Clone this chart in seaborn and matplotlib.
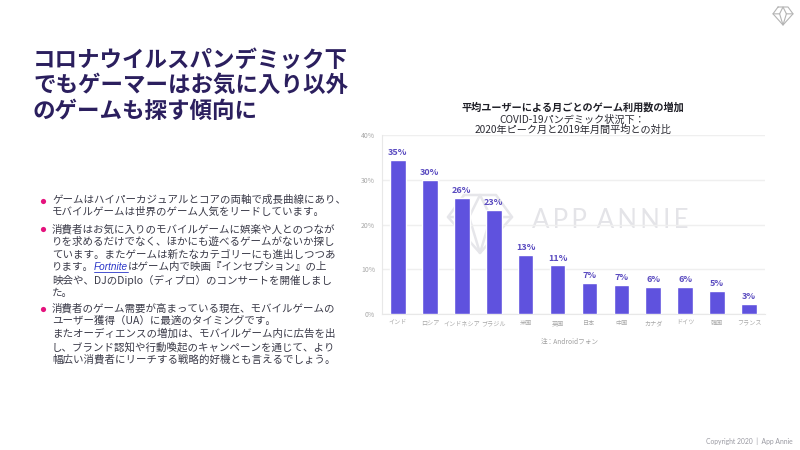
import matplotlib
matplotlib.use("Agg")
import matplotlib.pyplot as plt
import pandas as pd
import seaborn as sns

# Values
COUNTRIES = ["インド", "ロシア", "インドネシア", "ブラジル", "米国", "英国",
             "日本", "中国", "カナダ", "ドイツ", "韓国", "フランス"]
GROWTH = [34.5, 29.9, 26.0, 23.3, 13.2, 10.9, 7.0, 6.5, 6.2, 6.2, 5.3, 2.4]
VALUE_LABELS = ["35%", "30%", "26%", "23%", "13%", "11%", "7%", "7%", "6%", "6%", "5%", "3%"]
Y_TICKS = [0, 10, 20, 30, 40]
Y_TICK_LABELS = ["0%", "10%", "20%", "30%", "40%"]

HEADLINE = ["コロナウイルスパンデミック下", "でもゲーマーはお気に入り以外", "のゲームも探す傾向に"]
CHART_TITLE = "平均ユーザーによる月ごとのゲーム利用数の増加"
CHART_SUBTITLE = ["COVID-19パンデミック状況下：", "2020年ピーク月と2019年月間平均との対比"]
BODY_LINES = [
    (200, "ゲームはハイパーカジュアルとコアの両軸で成長曲線にあり、"),
    (212, "モバイルゲームは世界のゲーム人気をリードしています。"),
    (229, "消費者はお気に入りのモバイルゲームに娯楽や人とのつなが"),
    (242, "りを求めるだけでなく、ほかにも遊べるゲームがないか探し"),
    (255, "ています。またゲームは新たなカテゴリーにも進出しつつあ"),
    (280, "映会や、DJのDiplo（ディプロ）のコンサートを開催しまし"),
    (293, "た。"),
    (308, "消費者のゲーム需要が高まっている現在、モバイルゲームの"),
    (321, "ユーザー獲得（UA）に最適のタイミングです。"),
    (334, "またオーディエンスの増加は、モバイルゲーム内に広告を出"),
    (347, "し、ブランド認知や行動喚起のキャンペーンを通じて、より"),
    (359, "幅広い消費者にリーチする戦略的好機とも言えるでしょう。"),
]
BULLET_ROWS = [201, 229, 309]

BAR_COLOR = "#5F52DE"
LABEL_COLOR = "#5A4BC0"
BODY_COLOR = "#3A3A48"
TITLE_COLOR = "#2B1F5E"
BODY_SIZE = 7.55


def draw_diamond(ax, cx, cy, w, h, color, lw):
    # gem outline, used for the logo and the watermark
    l, r = cx - w / 2, cx + w / 2
    top, mid, bot = cy - h / 2, cy - h * 0.12, cy + h / 2
    ax.plot([l + w * 0.25, r - w * 0.25, r, cx, l, l + w * 0.25],
            [top, top, mid, bot, mid, top], color=color, lw=lw)
    ax.plot([l, l + w * 0.33, cx, r - w * 0.33, r], [mid, mid, top, mid, mid], color=color, lw=lw)
    ax.plot([l + w * 0.33, cx, r - w * 0.33], [mid, bot, mid], color=color, lw=lw)


sns.set_style("white")
plt.rcParams["font.family"] = ["Noto Sans CJK JP", "DejaVu Sans"]

df = pd.DataFrame({"country": COUNTRIES, "growth": GROWTH})

fig = plt.figure(figsize=(8, 4.5), dpi=100)

# overlay in pixel coordinates for the slide furniture
page = fig.add_axes([0, 0, 1, 1], zorder=0)
page.set_xlim(0, 800)
page.set_ylim(450, 0)
page.axis("off")

# plot area runs 382-765 px across, 135-314 px down
ax = fig.add_axes([382 / 800, 1 - 314.3 / 450, 383 / 800, 179.3 / 450], zorder=1)
ax.patch.set_alpha(0)
sns.barplot(data=df, x="country", y="growth", color=BAR_COLOR, saturation=1, width=0.49, ax=ax, zorder=3)
ax.bar_label(ax.containers[0], labels=VALUE_LABELS, padding=2, fontsize=6.5,
             fontweight="bold", color=LABEL_COLOR)

ax.set_ylim(0, 40)
ax.set_yticks(Y_TICKS, Y_TICK_LABELS)
ax.set_xlabel("")
ax.set_ylabel("")
ax.grid(axis="y", color="#EFEFEF", lw=1, zorder=0)
ax.tick_params(axis="x", length=0, pad=3.5, labelsize=4.4, labelcolor="#A8A8A8")
ax.tick_params(axis="y", length=0, pad=5, labelsize=5, labelcolor="#A8A8A8")
for side in ["top", "right"]:
    ax.spines[side].set_visible(False)
for side in ["left", "bottom"]:
    ax.spines[side].set_color("#E8E8E8")

# watermark
draw_diamond(page, 480, 224, 64, 58, "#E6E6EA", 1.8)
page.text(610, 220, "A\u2009P\u2009P \u2009A\u2009N\u2009N\u2009I\u2009E", fontsize=18.5, color="#E4E4E8",
          ha="center", va="center", family=["Lato", "DejaVu Sans"])

# logo, top right
draw_diamond(page, 783, 16, 20, 18, "#B4B4B4", 0.8)

# headline
for y, line in zip([60, 85, 111], HEADLINE):
    page.text(33, y, line, fontsize=16.2, fontweight="bold", color=TITLE_COLOR, ha="left", va="center")

# body
page.scatter([43] * len(BULLET_ROWS), BULLET_ROWS, s=14, color="#E5127D", linewidths=0)
for y, line in BODY_LINES:
    page.text(52, y, line, fontsize=BODY_SIZE, color=BODY_COLOR, ha="left", va="center")
page.text(52, 267, "ります。", fontsize=BODY_SIZE, color=BODY_COLOR, ha="left", va="center")
page.text(94, 267, "Fortnite", fontsize=7.2, color="#2A35C8", style="italic", ha="left", va="center",
          family=["Liberation Sans", "DejaVu Sans"])
page.plot([94, 128], [272, 272], color="#2A35C8", lw=0.6)
page.text(128, 267, "はゲーム内で映画『インセプション』の上", fontsize=BODY_SIZE, color=BODY_COLOR,
          ha="left", va="center")

# chart titles
page.text(573, 108, CHART_TITLE, fontsize=7.3, fontweight="bold", color="#1E1E26", ha="center", va="center")
page.text(572, 120, CHART_SUBTITLE[0], fontsize=7.3, color="#2A2A32", ha="center", va="center")
page.text(573, 130, CHART_SUBTITLE[1], fontsize=7.3, color="#2A2A32", ha="center", va="center")

page.text(570, 342, "注：Androidフォン", fontsize=4.8, color="#A0A0A0", ha="center", va="center")
page.text(793, 441, "Copyright 2020  |  App Annie", fontsize=4.9, color="#9A9AA2", ha="right", va="center",
          family=["Lato", "DejaVu Sans"])

fig.savefig("out.png", dpi=100)
plt.close(fig)
